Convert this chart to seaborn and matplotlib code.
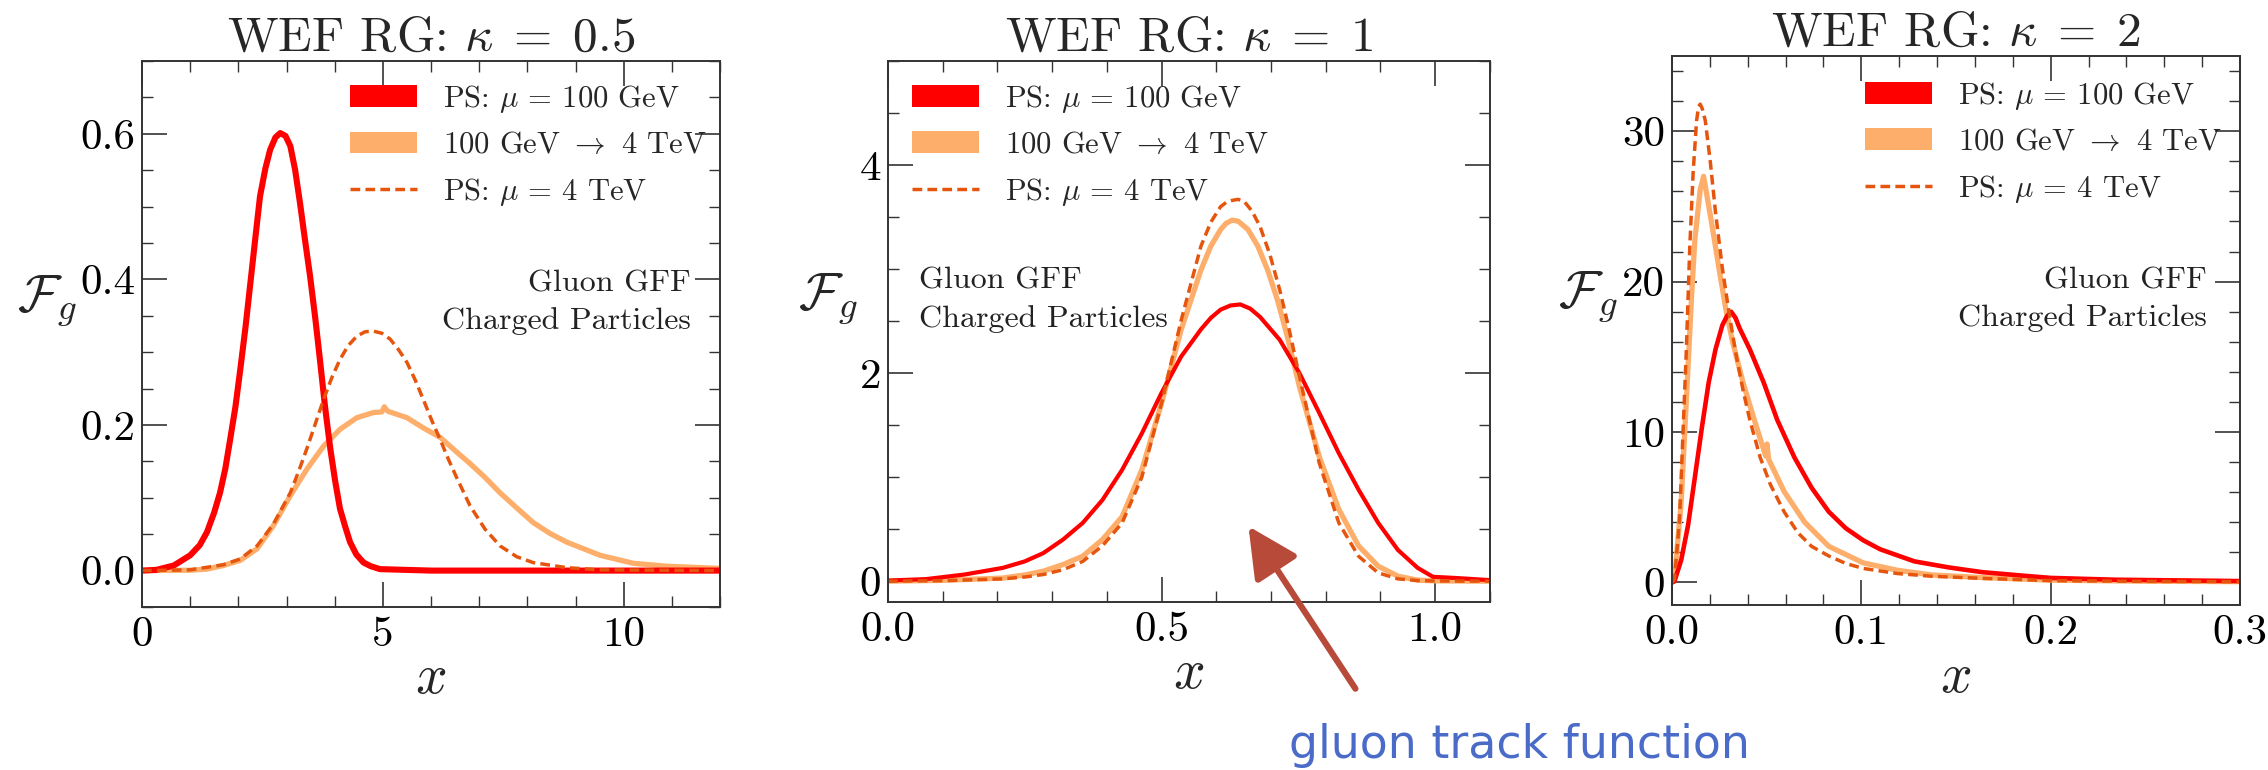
import numpy as np
import pandas as pd
import matplotlib
matplotlib.use("Agg")
import matplotlib.pyplot as plt
import seaborn as sns
from matplotlib.patches import Patch, FancyArrowPatch
from matplotlib.lines import Line2D
from matplotlib.ticker import MultipleLocator

# ---- data ----
# kappa = 0.5
k05_red_x = [0, 0.3, 0.66, 1.0, 1.2, 1.35, 1.5, 1.62, 1.73, 1.83, 1.94, 2.04, 2.15, 2.25, 2.35, 2.45,
             2.56, 2.66, 2.77, 2.87, 2.98, 3.08, 3.18, 3.28, 3.38, 3.49, 3.60, 3.70, 3.80, 3.91,
             4.01, 4.11, 4.22, 4.32, 4.45, 4.60, 4.75, 4.94, 6, 8, 10, 12]
k05_red_y = [0, 0.001, 0.007, 0.021, 0.035, 0.053, 0.080, 0.107, 0.140, 0.180, 0.225, 0.276, 0.335,
             0.395, 0.455, 0.514, 0.552, 0.578, 0.595, 0.601, 0.597, 0.583, 0.550, 0.505, 0.456,
             0.404, 0.345, 0.286, 0.225, 0.167, 0.123, 0.085, 0.060, 0.039, 0.022, 0.011, 0.006,
             0.002, 0, 0, 0, 0]
k05_evo_x = [0, 1.0, 1.35, 1.69, 2.04, 2.39, 2.73, 3.08, 3.42, 3.77, 4.11, 4.46, 4.80, 4.98, 5.03,
             5.10, 5.50, 5.84, 6.19, 6.53, 6.81, 7.12, 7.43, 7.78, 8.12, 8.47, 8.82, 9.51, 10.2,
             10.9, 12]
k05_evo_y = [0, 0.0005, 0.002, 0.007, 0.014, 0.030, 0.062, 0.103, 0.139, 0.171, 0.194, 0.210, 0.217,
             0.218, 0.225, 0.219, 0.210, 0.196, 0.183, 0.163, 0.147, 0.128, 0.107, 0.086, 0.066,
             0.051, 0.039, 0.021, 0.010, 0.006, 0.003]
k05_ps4_x = [0, 1.0, 1.69, 2.04, 2.39, 2.73, 3.08, 3.25, 3.42, 3.60, 3.77, 3.94, 4.11, 4.28, 4.46,
             4.63, 4.80, 4.98, 5.15, 5.32, 5.50, 5.67, 5.84, 6.01, 6.19, 6.36, 6.53, 6.81, 7.12,
             7.43, 7.78, 8.12, 8.82, 9.5, 12]
k05_ps4_y = [0, 0.001, 0.008, 0.016, 0.034, 0.064, 0.107, 0.136, 0.167, 0.202, 0.235, 0.265, 0.290,
             0.309, 0.322, 0.328, 0.329, 0.326, 0.318, 0.304, 0.286, 0.262, 0.235, 0.207, 0.180,
             0.153, 0.128, 0.089, 0.057, 0.034, 0.019, 0.011, 0.004, 0.001, 0]

# kappa = 1
k1_red_x = [0, 0.07, 0.14, 0.21, 0.25, 0.284, 0.32, 0.356, 0.392, 0.428, 0.464, 0.50, 0.536, 0.572,
            0.59, 0.608, 0.626, 0.644, 0.662, 0.68, 0.716, 0.752, 0.788, 0.824, 0.86, 0.896, 0.932,
            0.968, 0.996, 1.04, 1.1]
k1_red_y = [0.006, 0.02, 0.064, 0.128, 0.19, 0.27, 0.40, 0.56, 0.78, 1.07, 1.42, 1.81, 2.16, 2.42,
            2.53, 2.61, 2.65, 2.66, 2.62, 2.54, 2.32, 2.0, 1.62, 1.23, 0.88, 0.56, 0.30, 0.128,
            0.042, 0.03, 0.01]
k1_evo_x = [0, 0.1, 0.21, 0.25, 0.284, 0.32, 0.356, 0.392, 0.428, 0.464, 0.50, 0.536, 0.572, 0.59,
            0.608, 0.618, 0.629, 0.64, 0.658, 0.676, 0.694, 0.712, 0.73, 0.752, 0.788, 0.824, 0.86,
            0.896, 0.932, 0.968, 1.0, 1.1]
k1_evo_y = [0, 0.008, 0.03, 0.06, 0.096, 0.16, 0.24, 0.40, 0.62, 1.07, 1.71, 2.42, 2.99, 3.22, 3.38,
            3.44, 3.47, 3.46, 3.38, 3.22, 2.99, 2.70, 2.35, 1.87, 1.2, 0.69, 0.34, 0.144, 0.048,
            0.01, 0.003, 0]
k1_ps4_x = [0, 0.1, 0.21, 0.25, 0.284, 0.32, 0.356, 0.392, 0.428, 0.464, 0.50, 0.536, 0.572, 0.59,
            0.608, 0.618, 0.629, 0.64, 0.651, 0.665, 0.68, 0.698, 0.716, 0.734, 0.752, 0.788, 0.824,
            0.86, 0.896, 0.932, 0.968, 1.0, 1.1]
k1_ps4_y = [0, 0.005, 0.022, 0.04, 0.064, 0.11, 0.19, 0.34, 0.56, 1.0, 1.71, 2.51, 3.22, 3.45, 3.6,
            3.64, 3.66, 3.67, 3.65, 3.56, 3.41, 3.14, 2.8, 2.4, 1.97, 1.14, 0.56, 0.24, 0.08, 0.022,
            0.006, 0.002, 0]

# kappa = 2
k2_red_x = [0, 0.0013, 0.0049, 0.0085, 0.0121, 0.0158, 0.0194, 0.023, 0.0266, 0.029, 0.0312, 0.0335,
            0.0357, 0.0411, 0.0484, 0.0556, 0.0647, 0.0737, 0.0828, 0.0918, 0.101, 0.11, 0.128, 0.146,
            0.164, 0.19, 0.2, 0.234, 0.3]
k2_red_y = [0, 0.07, 1.5, 3.8, 7.0, 10.3, 13.3, 15.5, 17.1, 17.7, 18.0, 17.6, 16.9, 15.5, 13.3, 10.8,
            8.3, 6.3, 4.7, 3.6, 2.8, 2.2, 1.4, 1.0, 0.68, 0.4, 0.3, 0.18, 0.09]
k2_evo_x = [0, 0.0013, 0.0049, 0.0076, 0.0103, 0.0121, 0.0149, 0.0167, 0.0185, 0.0212, 0.0248, 0.0284,
            0.032, 0.0375, 0.043, 0.0495, 0.0502, 0.051, 0.0592, 0.0701, 0.0828, 0.101, 0.119, 0.137,
            0.164, 0.2, 0.25, 0.3]
k2_evo_y = [0, 0.18, 5.4, 12.1, 18.9, 22.8, 26.1, 27.0, 25.7, 23.7, 20.9, 18.2, 16.0, 13.3, 11.0, 8.4,
            9.2, 8.2, 6.05, 4.0, 2.4, 1.3, 0.81, 0.5, 0.32, 0.15, 0.08, 0.05]
k2_ps4_x = [0, 0.0013, 0.004, 0.0058, 0.0076, 0.0094, 0.0112, 0.013, 0.014, 0.0149, 0.016, 0.0176,
            0.0203, 0.023, 0.0266, 0.0303, 0.0339, 0.0375, 0.0411, 0.0466, 0.052, 0.0592, 0.0665,
            0.0737, 0.0828, 0.0918, 0.101, 0.119, 0.137, 0.164, 0.2, 0.25, 0.3]
k2_ps4_y = [0, 0.18, 4.2, 9.9, 15.5, 22.3, 27.3, 30.7, 31.6, 31.8, 31.5, 30.7, 27.9, 24.6, 20.9, 17.8,
            15.1, 12.8, 10.8, 8.3, 6.5, 4.7, 3.3, 2.4, 1.76, 1.26, 0.93, 0.59, 0.41, 0.27, 0.12, 0.07,
            0.05]

kappa_labels = ["0.5", "1", "2"]
legend_labels = [r"PS: $\mu$ = 100 GeV", r"100 GeV $\rightarrow$ 4 TeV", r"PS: $\mu$ = 4 TeV"]
note_text = "Gluon GFF\nCharged Particles"

# ---- style ----
sns.set_style("ticks")
plt.rcParams["font.family"] = "serif"
plt.rcParams["font.serif"] = ["cmr10"]
plt.rcParams["mathtext.fontset"] = "cm"
plt.rcParams["axes.formatter.use_mathtext"] = True
plt.rcParams["axes.unicode_minus"] = False

RED = "#ff0000"
ORANGE = "#fdae6b"
DARK = "#e6550d"

fig = plt.figure(figsize=(22.68, 7.7), dpi=100)

panels = [
    dict(pos=[0.0626, 0.2117, 0.2549, 0.7091], data=(k05_red_x, k05_red_y, k05_evo_x, k05_evo_y, k05_ps4_x, k05_ps4_y),
         xlim=(0, 12), ylim=(-0.05, 0.7), xmaj=5, xmin=1, ymaj=0.2, ymin=0.05, yfmt="%.1f", xfmt="%d",
         leg=(0.36, 0.96), note=(0.95, 0.557, "right"), ylab=(-0.165, 0.56), red_lw=4.4),
    dict(pos=[0.3915, 0.2182, 0.2654, 0.7026], data=(k1_red_x, k1_red_y, k1_evo_x, k1_evo_y, k1_ps4_x, k1_ps4_y),
         xlim=(0, 1.1), ylim=(-0.2, 5), xmaj=0.5, xmin=0.1, ymaj=2, ymin=0.5, yfmt="%d", xfmt="%.1f",
         leg=(0.04, 0.96), note=(0.052, 0.558, "left"), ylab=(-0.10, 0.56), red_lw=3.0),
    dict(pos=[0.7372, 0.2143, 0.2505, 0.7130], data=(k2_red_x, k2_red_y, k2_evo_x, k2_evo_y, k2_ps4_x, k2_ps4_y),
         xlim=(0, 0.3), ylim=(-1.5, 35), xmaj=0.1, xmin=0.02, ymaj=10, ymin=2, yfmt="%d", xfmt="%.1f",
         leg=(0.34, 0.957), note=(0.942, 0.556, "right"), ylab=(-0.148, 0.56), red_lw=3.3),
]

for p, kap in zip(panels, kappa_labels):
    ax = fig.add_axes(p["pos"])
    rx, ry, ex, ey, dx, dy = p["data"]
    sns.lineplot(x=ex, y=ey, ax=ax, color=ORANGE, linewidth=3.8, legend=False)
    sns.lineplot(x=rx, y=ry, ax=ax, color=RED, linewidth=p["red_lw"], legend=False)
    sns.lineplot(x=dx, y=dy, ax=ax, color=DARK, linewidth=2.5, dashes=(2.8, 1.5), legend=False)

    ax.set_xlim(*p["xlim"])
    ax.set_ylim(*p["ylim"])
    ax.xaxis.set_major_locator(MultipleLocator(p["xmaj"]))
    ax.xaxis.set_minor_locator(MultipleLocator(p["xmin"]))
    ax.yaxis.set_major_locator(MultipleLocator(p["ymaj"]))
    ax.yaxis.set_minor_locator(MultipleLocator(p["ymin"]))
    ax.yaxis.set_major_formatter(plt.FormatStrFormatter(p["yfmt"]))
    ax.xaxis.set_major_formatter(plt.FormatStrFormatter(p["xfmt"]))

    ax.tick_params(which="both", direction="in", top=True, right=True, colors="#333333",
                   labelcolor="black", labelsize=31)
    ax.tick_params(which="major", length=18, width=1.2)
    ax.tick_params(which="minor", length=8, width=1.0)
    ax.tick_params(axis="x", pad=7)
    ax.tick_params(axis="y", pad=5)
    for s in ax.spines.values():
        s.set_color("#333333")
        s.set_linewidth(1.4)

    ax.set_title(r"WEF RG: $\kappa\;=\;" + kap + "$", fontsize=35.5, pad=7)
    ax.set_xlabel(r"$x$", fontsize=40, va="center")
    ax.xaxis.set_label_coords(0.5, -0.133)
    ax.set_ylabel(r"$\mathcal{F}_g$", fontsize=38, rotation=0, ha="center", va="center")
    ax.yaxis.set_label_coords(*p["ylab"])

    nx, ny, nha = p["note"]
    ax.text(nx, ny, note_text, transform=ax.transAxes, ha=nha, va="center", fontsize=23,
            linespacing=1.45, color="#222222")

    handles = [Patch(facecolor=RED, edgecolor="none"),
               Patch(facecolor=ORANGE, edgecolor="none"),
               Line2D([0], [0], color=DARK, lw=2.5, dashes=(2.8, 1.5))]
    ax.legend(handles, legend_labels, loc="upper left", bbox_to_anchor=p["leg"], frameon=False,
              fontsize=22, handlelength=2.2, handletextpad=0.85, labelspacing=0.55,
              borderpad=0, borderaxespad=0)

# annotation arrow and note
fig.patches.append(FancyArrowPatch(
    (0.5983, 0.1026), (0.5498, 0.3195), transform=fig.transFigure,
    arrowstyle="-|>,head_length=1.4,head_width=0.7", mutation_scale=22, color="#b84a3a", lw=4.5))
fig.text(0.6700, 0.032, "gluon track function", ha="center", va="center", fontsize=33,
         color="#4a6cc8", family="DejaVu Sans")

fig.savefig("out.png", dpi=100)
